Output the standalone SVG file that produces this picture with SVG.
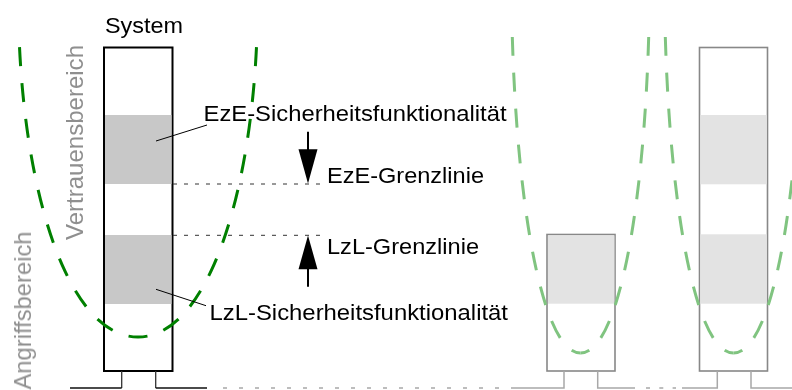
<svg xmlns="http://www.w3.org/2000/svg" width="792" height="390" viewBox="0 0 792 390">
<style>
.t{font-family:"Liberation Sans",Arial,sans-serif;font-size:22px;fill:#000}
.side{font-family:"Liberation Sans",Arial,sans-serif;font-size:24px;fill:#8f8f8f}
.box{fill:#fff;stroke:#000;stroke-width:2}
.box2{fill:#fff;stroke:#888;stroke-width:1.6}
.band{fill:#c8c8c8}
.band2{fill:#e3e3e3}
.foot{fill:none;stroke:#333;stroke-width:1.3}
.foot2{fill:none;stroke:#a8a8a8;stroke-width:1.5}
.gdash{fill:none;stroke:#a8a8a8;stroke-width:1.5;stroke-dasharray:4 12}
.bound{fill:none;stroke:#333;stroke-width:1;stroke-dasharray:4 7}
.leader{fill:none;stroke:#000;stroke-width:1}
.arr{fill:none;stroke:#000;stroke-width:2}
.green{fill:none;stroke:#008000;stroke-width:3;stroke-dasharray:19 17;stroke-dashoffset:9.5}
.lgreen{fill:none;stroke:#80c480;stroke-width:3;stroke-dasharray:19 17;stroke-dashoffset:9.5}
</style>
<defs>
<filter id="blur" x="-10%" y="-10%" width="120%" height="120%"><feGaussianBlur stdDeviation="0.7"/></filter>
</defs>

<g id="labels-side" filter="url(#blur)">
<text class="side" transform="translate(83,240) rotate(-90)" textLength="195" lengthAdjust="spacingAndGlyphs">Vertrauensbereich</text>
<text class="side" transform="translate(31,389.5) rotate(-90)" textLength="158" lengthAdjust="spacingAndGlyphs">Angriffsbereich</text>
</g>

<g id="system">
<rect class="box" x="104" y="47.5" width="68.5" height="323.5"/>
<rect class="band" x="105" y="115" width="66.5" height="69"/>
<rect class="band" x="105" y="235" width="66.5" height="69"/>
<text class="t" x="105" y="33" textLength="78" lengthAdjust="spacingAndGlyphs">System</text>
</g>

<g id="system2">
<rect class="box2" x="547" y="234.5" width="68" height="136.5"/>
<rect class="band2" x="548" y="235.3" width="66.4" height="68.4"/>
</g>

<g id="system3">
<rect class="box2" x="699.5" y="47.5" width="68" height="323.5"/>
<rect class="band2" x="700.3" y="115" width="66.4" height="69.3"/>
<rect class="band2" x="700.3" y="234.3" width="66.4" height="69.4"/>
</g>

<g id="ground">
<path class="foot" d="M121.7,371 V388 M155.7,371 V388"/>
<path class="foot" style="stroke:#111" d="M70,388 H121.7 M155.7,388 H207"/>
<path class="gdash" d="M223,388 H505"/>
<path class="foot2" d="M511,388 H564 V371 M597.7,371 V388 H635"/>
<path class="gdash" style="stroke-dasharray:4 9.3" d="M646,388 H676"/>
<path class="foot2" d="M682,388 H717.3 V371 M751,371 V388 H792"/>
</g>

<g id="trust-curves">
<path class="green" d="M138,337 C70,337 25,200 19,35"/>
<path class="green" d="M138,337 C206,337 251,200 257,35"/>
<path class="lgreen" d="M580.5,353 C544.5,353 517.8,220 512.3,37"/>
<path class="lgreen" d="M580.5,353 C616.5,353 643.2,220 648.7,37"/>
<path class="lgreen" d="M733.5,353 C697.5,353 670.8,220 665.3,37"/>
<path class="lgreen" d="M733.5,353 C769.5,353 796.2,220 801.7,37"/>
</g>

<g id="connectors">
<path class="bound" d="M173,184 H327"/>
<path class="bound" d="M173,235.3 H327"/>
<path class="leader" d="M156,141 L207,125"/>
<path class="leader" d="M156,289.3 L206,305.7"/>
<path class="arr" d="M308,131.7 V152"/>
<polygon points="298.5,149.3 317.5,149.3 308,183.5" fill="#000"/>
<path class="arr" d="M308,266 V286.7"/>
<polygon points="298.5,269.3 317.5,269.3 308,235.5" fill="#000"/>
</g>

<g id="label-eze-func"><text class="t" x="203.5" y="120.5" textLength="303" lengthAdjust="spacingAndGlyphs">EzE-Sicherheitsfunktionalität</text></g>
<g id="label-eze-line"><text class="t" x="327" y="182.5" textLength="157" lengthAdjust="spacingAndGlyphs">EzE-Grenzlinie</text></g>
<g id="label-lzl-line"><text class="t" x="327" y="253.5" textLength="152" lengthAdjust="spacingAndGlyphs">LzL-Grenzlinie</text></g>
<g id="label-lzl-func"><text class="t" x="209.5" y="320" textLength="298.5" lengthAdjust="spacingAndGlyphs">LzL-Sicherheitsfunktionalität</text></g>
</svg>
